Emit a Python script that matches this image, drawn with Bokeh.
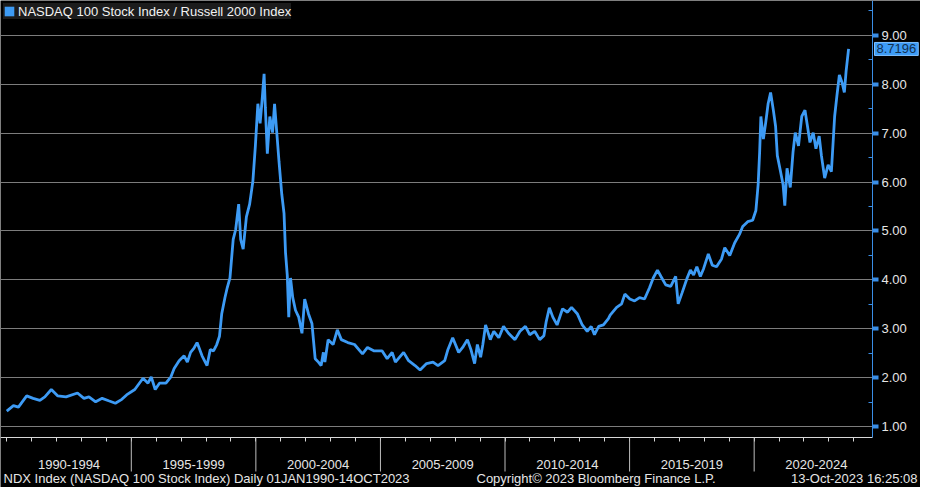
from bokeh.plotting import figure
from bokeh.models import (Range1d, FixedTicker, NumeralTickFormatter, ColumnDataSource,
                          Label, Arrow, Legend, LegendItem, LinearAxis, Grid)
from bokeh.embed import file_html
from bokeh.resources import INLINE

# ---------------- data ----------------
years = [1990.00, 1990.27, 1990.47, 1990.80, 1991.06, 1991.33, 1991.53, 1991.79, 1992.05, 1992.38,
         1992.84, 1993.10, 1993.30, 1993.57, 1993.83, 1994.09, 1994.36, 1994.62, 1994.81, 1995.14,
         1995.47, 1995.67, 1995.80, 1995.96, 1996.13, 1996.39, 1996.59, 1996.72, 1996.92, 1997.12,
         1997.25, 1997.38, 1997.51, 1997.64, 1997.84, 1998.04, 1998.17, 1998.30, 1998.43, 1998.54,
         1998.63, 1998.76, 1998.85, 1998.96, 1999.09, 1999.19, 1999.31, 1999.39, 1999.49, 1999.62,
         1999.75, 1999.88, 1999.98, 2000.08, 2000.17, 2000.25, 2000.33, 2000.38, 2000.46, 2000.56,
         2000.67, 2000.75, 2000.83, 2000.93, 2001.04, 2001.13, 2001.19, 2001.26, 2001.32, 2001.39,
         2001.48, 2001.59, 2001.72, 2001.85, 2001.96, 2002.11, 2002.25, 2002.38, 2002.51, 2002.62,
         2002.71, 2002.77, 2002.90, 2003.10, 2003.27, 2003.43, 2003.69, 2003.96, 2004.28, 2004.48,
         2004.75, 2005.07, 2005.27, 2005.47, 2005.60, 2005.93, 2006.13, 2006.39, 2006.59, 2006.85,
         2007.11, 2007.31, 2007.58, 2007.71, 2007.90, 2008.14, 2008.30, 2008.49, 2008.63, 2008.78,
         2008.89, 2009.02, 2009.11, 2009.22, 2009.41, 2009.55, 2009.75, 2009.94, 2010.14, 2010.40,
         2010.60, 2010.82, 2010.99, 2011.19, 2011.39, 2011.56, 2011.65, 2011.78, 2011.92, 2012.09,
         2012.31, 2012.51, 2012.67, 2012.90, 2013.10, 2013.30, 2013.46, 2013.59, 2013.76, 2013.95,
         2014.15, 2014.22, 2014.48, 2014.68, 2014.81, 2015.01, 2015.20, 2015.40, 2015.60, 2015.80,
         2015.95, 2016.12, 2016.26, 2016.45, 2016.65, 2016.85, 2016.95, 2017.11, 2017.31, 2017.44,
         2017.57, 2017.70, 2017.84, 2017.97, 2018.16, 2018.32, 2018.49, 2018.69, 2018.82, 2019.02,
         2019.22, 2019.41, 2019.54, 2019.74, 2019.94, 2020.07, 2020.16, 2020.22, 2020.27, 2020.37,
         2020.46, 2020.56, 2020.66, 2020.77, 2020.86, 2020.93, 2021.06, 2021.16, 2021.23, 2021.32,
         2021.45, 2021.56, 2021.65, 2021.78, 2021.91, 2022.04, 2022.14, 2022.24, 2022.37, 2022.48,
         2022.61, 2022.70, 2022.83, 2022.97, 2023.10, 2023.23, 2023.33, 2023.42, 2023.53, 2023.62,
         2023.69, 2023.79]
ratio = [1.32, 1.43, 1.40, 1.63, 1.58, 1.54, 1.61, 1.76, 1.63, 1.61,
         1.69, 1.58, 1.61, 1.51, 1.58, 1.53, 1.48, 1.56, 1.65, 1.76,
         1.99, 1.89, 2.02, 1.76, 1.89, 1.89, 2.02, 2.19, 2.35, 2.45,
         2.32, 2.52, 2.60, 2.72, 2.45, 2.25, 2.58, 2.55, 2.68, 2.85,
         3.31, 3.64, 3.84, 4.04, 4.83, 5.03, 5.55, 4.83, 4.63, 5.29,
         5.55, 6.02, 6.74, 7.60, 7.20, 7.67, 8.21, 7.53, 6.58, 7.34,
         7.01, 7.60, 7.07, 6.41, 5.75, 5.36, 4.56, 4.10, 3.24, 4.04,
         3.64, 3.38, 3.24, 2.91, 3.61, 3.31, 3.11, 2.39, 2.32, 2.25,
         2.52, 2.32, 2.78, 2.68, 2.98, 2.78, 2.72, 2.68, 2.49, 2.62,
         2.55, 2.55, 2.39, 2.52, 2.32, 2.52, 2.35, 2.25, 2.16, 2.29,
         2.32, 2.25, 2.35, 2.58, 2.82, 2.52, 2.62, 2.78, 2.58, 2.29,
         2.68, 2.42, 2.68, 3.08, 2.78, 2.95, 2.82, 3.05, 2.91, 2.78,
         2.95, 3.05, 2.88, 2.95, 2.78, 2.86, 3.14, 3.43, 3.24, 3.08,
         3.41, 3.34, 3.44, 3.31, 3.08, 2.95, 3.05, 2.88, 3.05, 3.08,
         3.21, 3.28, 3.44, 3.51, 3.71, 3.61, 3.57, 3.64, 3.61, 3.84,
         4.04, 4.20, 4.07, 3.90, 3.87, 4.07, 3.51, 3.74, 4.04, 4.20,
         4.10, 4.27, 4.07, 4.23, 4.53, 4.30, 4.27, 4.43, 4.66, 4.50,
         4.76, 4.93, 5.09, 5.19, 5.22, 5.42, 5.95, 6.61, 7.34, 6.88,
         7.20, 7.60, 7.83, 7.47, 7.14, 6.54, 6.21, 5.95, 5.52, 6.28,
         5.89, 6.61, 7.01, 6.74, 7.34, 7.47, 7.14, 6.81, 7.01, 6.68,
         6.94, 6.54, 6.08, 6.35, 6.21, 7.34, 7.80, 8.19, 8.03, 7.83,
         8.26, 8.7196]

last_value = 8.7196
last_label = "8.7196"
series_name = "NASDAQ 100 Stock Index / Russell 2000 Index"
period_starts = [1990, 1995, 2000, 2005, 2010, 2015, 2020]
period_labels = ["1990-1994", "1995-1999", "2000-2004", "2005-2009",
                 "2010-2014", "2015-2019", "2020-2024"]
year_ticks = list(range(1990, 2025))
y_ticks = [1, 2, 3, 4, 5, 6, 7, 8, 9]
y_minor = [1.5, 2.5, 3.5, 4.5, 5.5, 6.5, 7.5, 8.5, 9.5]
footer_left = "NDX Index (NASDAQ 100 Stock Index)  Daily 01JAN1990-14OCT2023"
footer_mid = "Copyright\u00a9 2023 Bloomberg Finance L.P."
footer_right = "13-Oct-2023 16:25:08"

# ---------------- layout / style ----------------
W, H = 920, 487
RIGHT, BOTTOM = 48, 50           # room for the value axis and the time axis + footer
DATA_W, DATA_H = W - RIGHT, H - BOTTOM
X0, X1 = 1989.75, 2024.75        # plotted time span
Y0, Y1 = 0.78, 9.71              # plotted value span
PPX = DATA_W / (X1 - X0)
PPU = DATA_H / (Y1 - Y0)
XE = X1 + RIGHT / PPX            # canvas edge, in data units
YB = Y0 - BOTTOM / PPU
FONT = "Liberation Sans"
BLUE = "#3d9bf5"
AXIS_BLUE = "#3a8ee6"
TXT = "#e6e6e6"

p = figure(width=W, height=H, x_range=Range1d(X0, XE), y_range=Range1d(YB, Y1),
           output_backend="svg", toolbar_location=None,
           x_axis_location=None, y_axis_location=None,
           background_fill_color="black", border_fill_color="black",
           outline_line_color=None, min_border=0)
p.center = []   # drop the default grids; our own are added below

# value axis on the right edge of the plotting area
ya = LinearAxis(fixed_location=X1, bounds=(Y0, Y1),
                ticker=FixedTicker(ticks=y_ticks, minor_ticks=y_minor),
                formatter=NumeralTickFormatter(format="0.00"))
ya.axis_line_color = AXIS_BLUE
ya.major_tick_line_color = AXIS_BLUE
ya.major_tick_line_width = 4
ya.major_tick_out = 6
ya.major_tick_in = 0
ya.minor_tick_line_color = AXIS_BLUE
ya.minor_tick_in = 4
ya.minor_tick_out = 0
ya.major_label_standoff = 3
ya.major_label_text_color = TXT
ya.major_label_text_font = FONT
ya.major_label_text_font_size = "13px"
p.add_layout(ya, "right")

grid = Grid(dimension=1, ticker=ya.ticker, grid_line_color="#7c7c7c", grid_line_width=1)
if "cross_bounds" in grid.properties():
    grid.cross_bounds = (X0, X1)
p.add_layout(grid)

# time axis: labels centred in each 5-year block
mids = [s + 2.5 for s in period_starts]
xa = LinearAxis(fixed_location=Y0, bounds=(X0, X1),
                ticker=FixedTicker(ticks=mids, minor_ticks=year_ticks))
xa.major_label_overrides = {m: lab for m, lab in zip(mids, period_labels)}
xa.axis_line_color = "#d8d8d8"
xa.major_tick_in = 0
xa.major_tick_out = 0
xa.minor_tick_in = 0
xa.minor_tick_out = 4
xa.minor_tick_line_color = "#d8d8d8"
xa.major_label_standoff = 18
xa.major_label_text_color = TXT
xa.major_label_text_font = FONT
xa.major_label_text_font_size = "13px"
p.add_layout(xa, "below")

# block separators under the axis
for s in period_starts[1:]:
    p.add_layout(Arrow(end=None, x_start=s, y_start=Y0, x_end=s, y_end=Y0 - 34 / PPU,
                       line_color="#bdbdbd", line_width=1))

# series
src = ColumnDataSource(data=dict(x=years, y=ratio))
line = p.line("x", "y", source=src, line_color=BLUE, line_width=2.8)

# legend with a square swatch (zero-size quad at the last point, only for the key)
swatch = p.quad(left=years[-1:], right=years[-1:], top=ratio[-1:], bottom=ratio[-1:],
                fill_color=BLUE, line_color=None)
legend = Legend(items=[LegendItem(label=series_name, renderers=[swatch])],
                location="top_left", margin=3, padding=6, spacing=0,
                glyph_width=12, glyph_height=12, label_standoff=3, label_height=16,
                background_fill_color="#1c1c1c", background_fill_alpha=1.0,
                border_line_color=None, label_text_color="#f2f2f2",
                label_text_font=FONT, label_text_font_size="13px")
p.add_layout(legend)

# last value tag on the axis
p.add_layout(Label(x=X1, y=last_value, x_offset=2, text=last_label,
                   text_baseline="middle", text_align="left", text_color="#12304f",
                   text_font=FONT, text_font_size="13px",
                   background_fill_color=BLUE, border_line_color="#7fc0ff", padding=2))

# footer
fy = YB + 9 / PPU
p.add_layout(Label(x=X0 + 3 / PPX, y=fy, text=footer_left, text_baseline="middle",
                   text_align="left", text_color=TXT, text_font=FONT, text_font_size="13px"))
p.add_layout(Label(x=X0 + 476 / PPX, y=fy, text=footer_mid, text_baseline="middle",
                   text_align="left", text_color=TXT, text_font=FONT, text_font_size="13px"))
p.add_layout(Label(x=XE - 3 / PPX, y=fy, text=footer_right, text_baseline="middle",
                   text_align="right", text_color=TXT, text_font=FONT, text_font_size="13px"))

open("out.html", "w").write(file_html(p, INLINE))
